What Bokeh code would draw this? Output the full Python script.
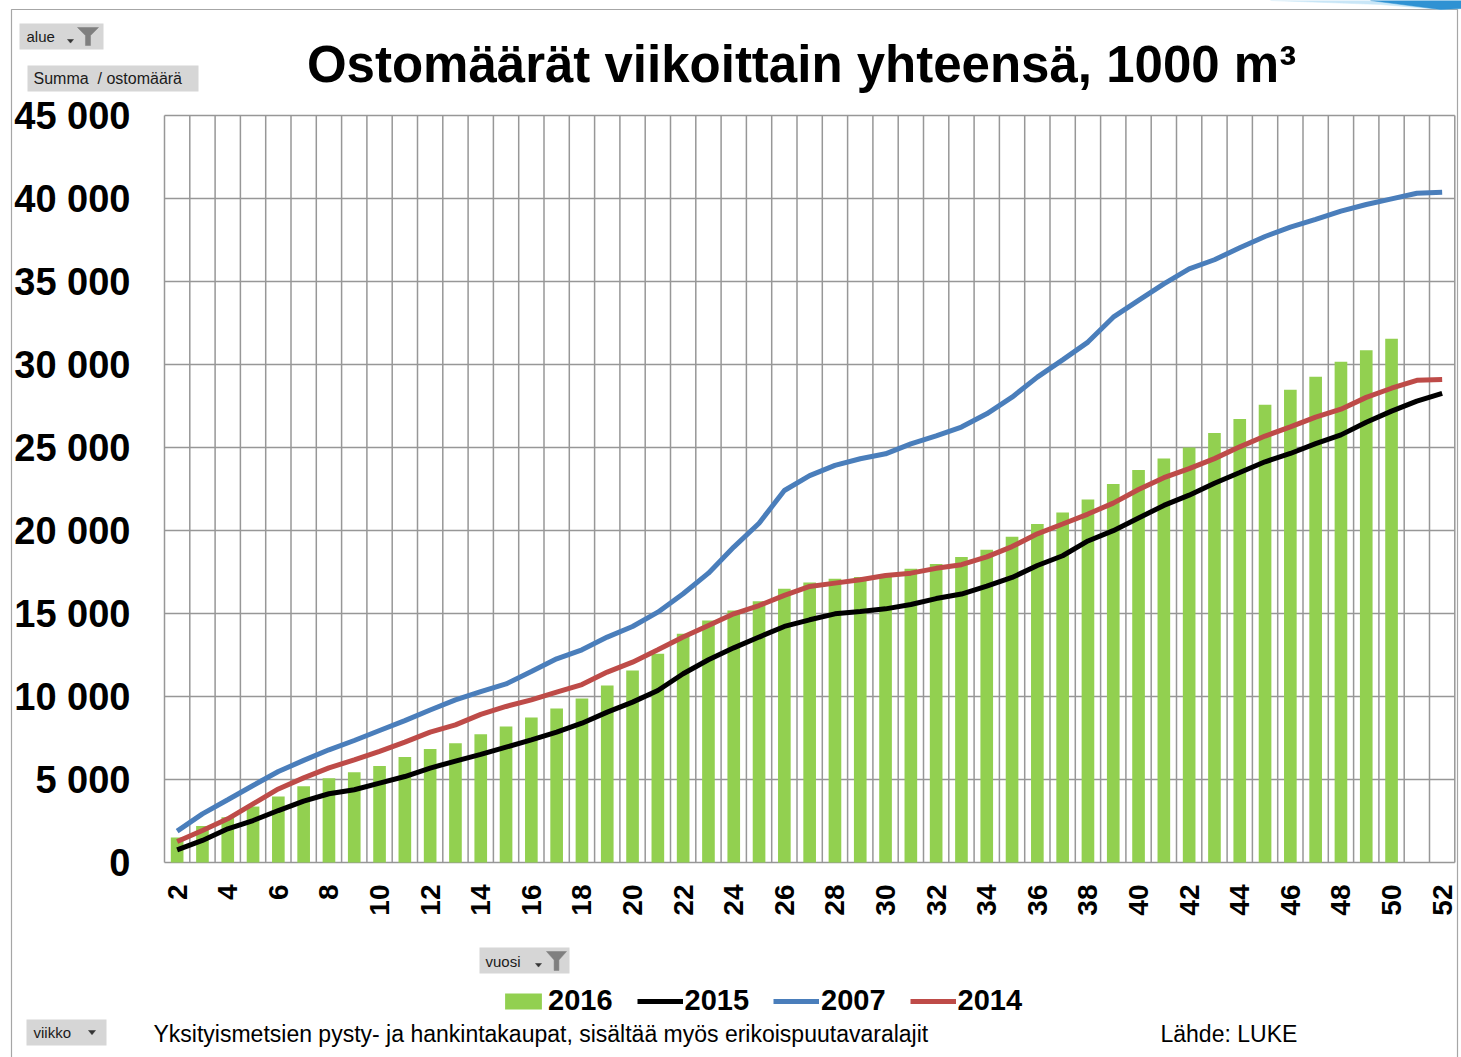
import math
from bokeh.plotting import figure
from bokeh.models import (ColumnDataSource, FixedTicker, Legend, LegendItem, Label,
                          BoxAnnotation, Range1d, LinearAxis)
from bokeh.embed import file_html
from bokeh.resources import INLINE

# ---------------- data ----------------
weeks = list(range(2, 53))
weeks_2016 = list(range(2, 51))
v2016 = [1500, 2200, 2730, 3370, 3980, 4600, 5080, 5440, 5820, 6350, 6830, 7190, 7730, 8190,
         8740, 9280, 9880, 10660, 11570, 12570, 13780, 14580, 15180, 15740, 16490, 16870, 17100,
         17200, 17300, 17690, 17980, 18410, 18840, 19630, 20390, 21080, 21870, 22800, 23640,
         24330, 25000, 25880, 26710, 27570, 28480, 29260, 30170, 30860, 31550]
v2015 = [765, 1330, 2030, 2530, 3130, 3700, 4140, 4380, 4780, 5180, 5690, 6110, 6510, 6950,
         7390, 7850, 8390, 9060, 9660, 10360, 11370, 12210, 12930, 13580, 14220, 14620, 14980,
         15120, 15280, 15540, 15900, 16170, 16650, 17170, 17890, 18480, 19370, 19990, 20750,
         21510, 22130, 22850, 23490, 24140, 24640, 25230, 25760, 26520, 27190, 27790, 28260]
v2007 = [1890, 2930, 3780, 4640, 5480, 6150, 6790, 7350, 7950, 8550, 9190, 9800, 10300, 10760,
         11500, 12270, 12810, 13580, 14220, 15080, 16190, 17430, 19000, 20440, 22410, 23310,
         23920, 24320, 24620, 25220, 25700, 26230, 27030, 28030, 29240, 30280, 31350, 32850,
         33860, 34860, 35760, 36310, 37030, 37710, 38270, 38740, 39240, 39640, 39980, 40320, 40380]
v2014 = [1265, 1930, 2630, 3530, 4430, 5100, 5700, 6180, 6690, 7250, 7850, 8290, 8920, 9400,
         9800, 10260, 10720, 11470, 12070, 12810, 13580, 14280, 14980, 15480, 16090, 16630,
         16830, 17030, 17290, 17430, 17720, 17940, 18410, 19030, 19800, 20390, 20990, 21650,
         22470, 23180, 23730, 24330, 25040, 25690, 26240, 26830, 27310, 28020, 28570, 29050, 29100]
series_names = ["2016", "2015", "2007", "2014"]
x_ticks = list(range(2, 53, 2))
x_tick_labels = [str(w) for w in x_ticks]
y_ticks = [0, 5000, 10000, 15000, 20000, 25000, 30000, 35000, 40000, 45000]
y_tick_labels = ["0", "5 000", "10 000", "15 000", "20 000", "25 000", "30 000",
                 "35 000", "40 000", "45 000"]
title_text = "Ostomäärät viikoittain yhteensä, 1000 m³"
footer_text = "Yksityismetsien pysty- ja hankintakaupat, sisältää myös erikoispuutavaralajit"
source_text = "Lähde: LUKE"

# ---------------- layout constants (pixels) ----------------
W, H = 1461, 1057
PL, PT, PB = 164.0, 115.0, 862.0      # plot area left / top / bottom
CAT = 25.3                            # px per week
X0, X1 = weeks[0] - 0.5, weeks[-1] + 0.5
Y0, Y1 = y_ticks[0], y_ticks[-1]
ypp = (Y1 - Y0) / (PB - PT)           # data units per pixel (y)
x_start = X0 - PL / CAT
x_end = X0 + (W - PL) / CAT
y_start = Y0 - (H - PB) * ypp
y_end = Y1 + PT * ypp

FONT = "Liberation Sans"
GRID = "#979797"

p = figure(width=W, height=H, output_backend="svg", toolbar_location=None,
           x_range=Range1d(x_start, x_end), y_range=Range1d(y_start, y_end),
           x_axis_location=None, y_axis_location=None,
           min_border=0, background_fill_color="white", border_fill_color="white")
p.outline_line_color = None
p.title.visible = False
p.xgrid.visible = False
p.ygrid.visible = False
# pixel coordinate system (origin top-left) for page decorations
p.extra_x_ranges = {"px": Range1d(0, W)}
p.extra_y_ranges = {"px": Range1d(H, 0)}

# ---------------- grid ----------------
vx = [w - 0.5 for w in weeks] + [X1]
p.segment(x0=vx, x1=vx, y0=[Y0] * len(vx), y1=[Y1] * len(vx),
          line_color=GRID, line_width=1.5, level="underlay")
p.segment(x0=[X0] * len(y_ticks), x1=[X1] * len(y_ticks), y0=y_ticks, y1=y_ticks,
          line_color=GRID, line_width=1.5, level="underlay")

# ---------------- axes (drawn at fixed data locations) ----------------
yaxis = LinearAxis(ticker=FixedTicker(ticks=y_ticks), fixed_location=X0,
                   major_label_overrides={t: l for t, l in zip(y_ticks, y_tick_labels)},
                   major_label_text_font=FONT, major_label_text_font_size="38px",
                   major_label_text_font_style="bold", major_label_text_color="black",
                   major_label_standoff=28, axis_line_color=None,
                   major_tick_line_color=None, minor_tick_line_color=None)
p.add_layout(yaxis, "left")
xaxis = LinearAxis(ticker=FixedTicker(ticks=x_ticks), fixed_location=Y0,
                   major_label_overrides={t: l for t, l in zip(x_ticks, x_tick_labels)},
                   major_label_orientation=math.pi / 2,
                   major_label_text_font=FONT, major_label_text_font_size="28px",
                   major_label_text_font_style="bold", major_label_text_color="black",
                   major_label_standoff=16, axis_line_color=None,
                   major_tick_line_color=None, minor_tick_line_color=None)
p.add_layout(xaxis, "below")

# ---------------- data glyphs ----------------
src16 = ColumnDataSource(dict(x=weeks_2016, top=v2016))
r16 = p.vbar(x="x", top="top", bottom=0, width=0.5, source=src16,
             fill_color="#92d050", line_color=None)
src = ColumnDataSource(dict(x=weeks, y15=v2015, y07=v2007, y14=v2014))
r15 = p.line("x", "y15", source=src, line_color="black", line_width=5)
r07 = p.line("x", "y07", source=src, line_color="#4a7ebb", line_width=5)
r14 = p.line("x", "y14", source=src, line_color="#be4b48", line_width=5)

legend = Legend(items=[LegendItem(label=series_names[0], renderers=[r16]),
                       LegendItem(label=series_names[1], renderers=[r15]),
                       LegendItem(label=series_names[2], renderers=[r07]),
                       LegendItem(label=series_names[3], renderers=[r14])],
                orientation="horizontal", location=(500, 40),
                label_text_font=FONT, label_text_font_size="29px", label_text_font_style="bold",
                label_text_color="black", glyph_width=46, glyph_height=20, label_standoff=2,
                spacing=24, padding=0, margin=0, border_line_color=None,
                background_fill_alpha=0)
p.add_layout(legend)

# ---------------- page decorations (pixel coords) ----------------
def box(l, t, r, b, fill=None, line=None, lw=1.0, level="underlay"):
    p.add_layout(BoxAnnotation(left=l, right=r, top=t, bottom=b,
                               x_range_name="px", y_range_name="px",
                               fill_color=fill if fill else "white", fill_alpha=1 if fill else 0,
                               line_color=line if line else "white", line_width=lw,
                               line_alpha=1 if line else 0, level=level))

def text(x, y, s, size, style="normal", color="black", align="left"):
    p.add_layout(Label(x=x, y=y, text=s, x_range_name="px", y_range_name="px",
                       text_font=FONT, text_font_size=size, text_font_style=style,
                       text_color=color, text_align=align, text_baseline="middle"))

def poly(xs, ys, color):
    p.patch(xs, ys, x_range_name="px", y_range_name="px", fill_color=color,
            line_color=color, line_width=0.5)

def funnel(x, y, w, h):
    poly([x, x + w, x + w * 0.62, x + w * 0.62, x + w * 0.38, x + w * 0.38],
         [y, y, y + h * 0.45, y + h, y + h, y + h * 0.45], "#7f7f7f")

def arrow(x, y, w):
    poly([x, x + w, x + w / 2], [y, y, y + w * 0.6], "#333333")

# top-right decorative swoosh
poly([1270, 1461, 1461, 1440, 1380], [0, 0, 8, 9, 4], "#c9e6f7")
poly([1370, 1461, 1461, 1440], [0, 0, 8, 9], "#2f92d3")

# outer frame
box(11, 9, 1457, 1070, fill=None, line="#a6a6a6", lw=1.2)

# field buttons
box(19, 23, 103, 49, fill="#d6d6d6")
text(26, 36, "alue", "15px", color="#1a1a1a")
arrow(67, 39, 6)
funnel(77, 27, 21, 18)

box(27, 65, 198, 91, fill="#d6d6d6")
text(33, 78, "Summa\u00a0\u00a0/ ostomäärä", "16px", color="#1a1a1a")

box(479, 947, 569, 973, fill="#d6d6d6")
text(485, 961, "vuosi", "15px", color="#1a1a1a")
arrow(535, 963, 6)
funnel(546, 951, 20, 19)

box(26, 1019, 106, 1045, fill="#d6d6d6")
text(33, 1032, "viikko", "15px", color="#1a1a1a")
arrow(88, 1030, 7)

# title
p.add_layout(Label(x=801, y=64, text=title_text, x_range_name="px", y_range_name="px",
                   text_font=FONT, text_font_size="51px", text_font_style="bold",
                   text_color="black", text_align="center", text_baseline="alphabetic"))

# footer
text(153, 1033, footer_text, "23px")
text(1160, 1033, source_text, "23px")

open("out.html", "w").write(file_html(p, INLINE))
